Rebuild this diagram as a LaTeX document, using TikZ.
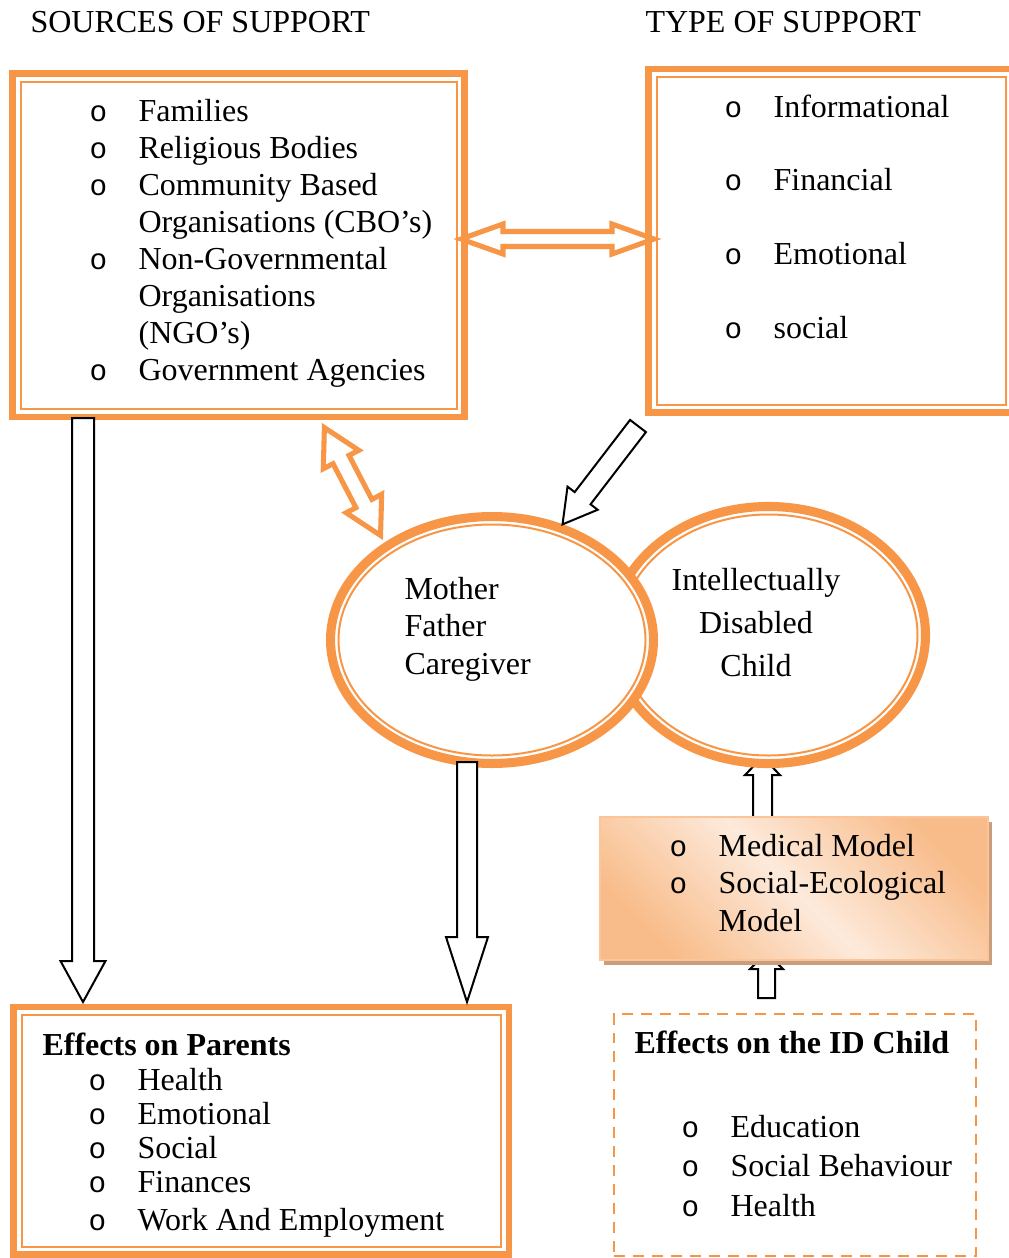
\documentclass[tikz,border=0pt]{standalone}
\usepackage{fontspec}
\setmainfont{Liberation Serif}
\newfontfamily\bulletfont{Liberation Mono}
\usetikzlibrary{calc,fit,shapes.geometric,shadows}

\definecolor{accent}{HTML}{F79646}
\definecolor{peachlight}{HTML}{FDEADB}
\definecolor{peachdark}{HTML}{F8BC8A}
\definecolor{shadowtan}{HTML}{C99E7E}

\newcommand\fs[1]{\fontsize{12}{#1}\selectfont}

\tikzset{
  outerline/.style={draw=accent, line width=2.6pt, inner sep=0pt, outer sep=0pt},
  innerline/.style={draw=accent, line width=0.75pt},
  outerring/.style={ellipse, draw=accent, fill=white, line width=3.4pt, inner sep=0pt, outer sep=0pt},
  dashbox/.style={draw=accent, line width=1.1pt, dash pattern=on 4.1pt off 3pt, inner sep=0pt},
  modelbox/.style={draw=accent!55, line width=0.6pt, inner sep=0pt,
    top color=peachdark, bottom color=peachdark, middle color=peachlight, shading angle=-45,
    drop shadow={shadow xshift=1.5pt, shadow yshift=-1.9pt, fill=shadowtan, opacity=1}},
  orangearrow/.style={draw=accent, fill=white, line width=1.9pt, line join=miter},
  blackarrow/.style={draw=black, fill=white, line width=0.75pt, line join=miter},
  txt/.style={inner sep=0pt, anchor=base west, font=\fs{13.8pt}},
  boldtxt/.style={inner sep=0pt, anchor=base west, font=\fs{13.8pt}\bfseries},
  listtext/.style={inner sep=0pt, anchor=base west, align=left}
}

\newcommand\bul{\makebox[18.4pt][l]{\bulletfont\fontsize{11}{0}\selectfont o}}
\newcommand\gap{\hspace*{18.4pt}}

% [style]{tail}{angle}{length}{half shaft}{half head}{head length}
\newcommand\onearrow[7][]{%
  \draw[#1,shift={#2},rotate=#3] (0,-#5) -- ({#4-#7},-#5) -- ({#4-#7},-#6) -- (#4,0)
    -- ({#4-#7},#6) -- ({#4-#7},#5) -- (0,#5) -- cycle;}
\newcommand\twoarrow[7][]{%
  \draw[#1,shift={#2},rotate=#3] (0,0) -- (#7,-#6) -- (#7,-#5) -- ({#4-#7},-#5) -- ({#4-#7},-#6)
    -- (#4,0) -- ({#4-#7},#6) -- ({#4-#7},#5) -- (#7,#5) -- (#7,#6) -- cycle;}

\begin{document}
\begin{tikzpicture}[x=0.375pt, y=-0.375pt]
\useasboundingbox (0,0) rectangle (1009,1258);

% headings
\node (hsrc) [txt] at (30,32.6) {SOURCES OF SUPPORT};
\node (htyp) [txt] at (645,32.6) {TYPE OF SUPPORT};

% orange links, under the frames
\twoarrow[orangearrow]{(461,239)}{0}{193}{7.5}{15}{42}
\twoarrow[orangearrow]{(324.4,427.6)}{-62.5}{121.6}{9}{20}{36}

% frames
\node (src) [outerline, fit={(12.5,73.5) (464.5,417)}] {};
\draw[innerline] ($(src.north west)+(8,8)$) rectangle ($(src.south east)-(8,8)$);
\node (typ) [outerline, fit={(648.5,69) (1013.5,412.5)}] {};
\draw[innerline] ($(typ.north west)+(8,8)$) rectangle ($(typ.south east)-(8,8)$);
\node (par) [outerline, fit={(13.5,1007) (509,1254.5)}] {};
\draw[innerline] ($(par.north west)+(8,8)$) rectangle ($(par.south east)-(8,8)$);
\node (idc) [dashbox, fit={(614,1014) (976,1256)}] {};

% arrows hidden under the model box and the child ellipse
\onearrow[blackarrow]{(762.5,817)}{90}{60}{9.5}{17.5}{18}
\onearrow[blackarrow]{(766.5,998)}{90}{45}{8.5}{16.5}{16}
\node (model) [modelbox, fit={(600,817) (988,960)}] {};

% ellipses
\node (kid) [outerring, minimum width=117.75pt, minimum height=96.4pt] at (768.5,635) {};
\draw[innerline] (kid.center) ellipse [x radius=149, y radius=120.5];
\node (carer) [outerring, minimum width=121.1pt, minimum height=92.6pt] at (492,640) {};
\draw[innerline] (carer.center) ellipse [x radius=153.5, y radius=115.5];

% black arrows
\onearrow[blackarrow]{(83,418)}{-90}{584}{11}{22.5}{41}
\onearrow[blackarrow]{(467,762)}{-90}{240}{10}{21}{65}
\onearrow[blackarrow]{(638,426)}{-127.5}{124}{10}{19}{33}

% texts (anchored on the baseline of the last line)
\node (srclist) [listtext, font=\fs{13.85pt}] at (89,380.5)
  {\bul Families\\ \bul Religious Bodies\\ \bul Community Based\\ \gap Organisations (CBO’s)\\
   \bul Non-Governmental\\ \gap Organisations\\ \gap (NGO’s)\\ \bul Government Agencies};
\node (typlist) [listtext, font=\fs{27.7pt}] at (724,338.6)
  {\bul Informational\\ \bul Financial\\ \bul Emotional\\ \bul social};
\node (carertxt) [listtext, font=\fs{14.06pt}] at (404,674) {Mother\\ Father\\ Caregiver};
\node (kidtxt) [inner sep=0pt, anchor=base, align=center, font=\fs{15.94pt}] at (756,676)
  {Intellectually\\ Disabled\\ Child};
\node (modellist) [listtext, font=\fs{13.9pt}] at (669,931)
  {\bul Medical Model\\ \bul Social-Ecological\\ \gap Model};
\node (parhead) [boldtxt] at (42,1055) {Effects on Parents};
\node (parlist) [listtext, font=\fs{12.75pt}] at (88,1230)
  {\bul Health\\ \bul Emotional\\ \bul Social\\ \bul Finances\\[1.5pt] \bul Work And Employment};
\node (idchead) [boldtxt] at (634,1053) {Effects on the ID Child};
\node (idclist) [listtext, font=\fs{14.8pt}] at (681,1216)
  {\bul Education\\ \bul Social Behaviour\\ \bul Health};
\end{tikzpicture}
\end{document}
